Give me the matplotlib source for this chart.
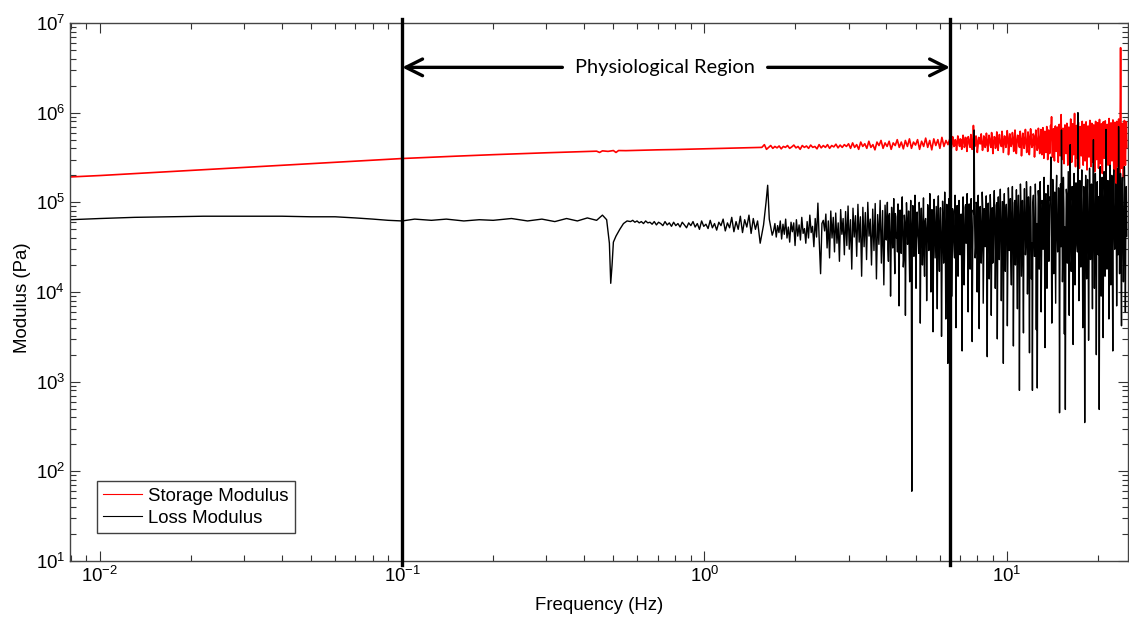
import numpy as np
import matplotlib
matplotlib.use("Agg")
import matplotlib.pyplot as plt

plt.rcParams['font.family'] = ['Liberation Sans', 'DejaVu Sans']
plt.rcParams['mathtext.default'] = 'regular'
plt.rcParams['axes.unicode_minus'] = False

# storage modulus, smooth low-frequency part (Hz, Pa)
stor_freq_lo = [0.008, 0.01, 0.015, 0.02, 0.03, 0.05, 0.07, 0.1, 0.15, 0.2, 0.3, 0.4, 0.44, 0.45,
                0.46, 0.48, 0.5, 0.51, 0.52, 0.55, 0.6, 0.7, 0.8, 0.9, 1.0, 1.1, 1.2, 1.3, 1.4, 1.5, 1.55]
stor_lo = [1.92e5, 1.99e5, 2.15e5, 2.27e5, 2.45e5, 2.70e5, 2.88e5, 3.08e5, 3.27e5, 3.40e5, 3.57e5,
           3.68e5, 3.72e5, 3.6e5, 3.75e5, 3.7e5, 3.78e5, 3.6e5, 3.78e5, 3.77e5, 3.80e5, 3.85e5,
           3.88e5, 3.92e5, 3.95e5, 3.98e5, 4.02e5, 4.05e5, 4.08e5, 4.1e5, 4.1e5]

# storage modulus, noisy part read band by band (outer swings and inner core)
stor_edges = [1.58, 3.0, 6.5, 13.0, 25.0]
stor_a = [4.4e5, 3.9e5, 4.1e5, 4.3e5, 4.0e5, 4.2e5, 4.05e5, 4.25e5, 3.95e5, 4.2e5,
          4.1e5, 4.3e5, 4.0e5, 4.15e5, 4.35e5, 4.05e5, 4.2e5, 3.9e5, 4.3e5, 4.1e5,
          4.25e5, 4.0e5, 4.35e5, 4.1e5, 4.2e5, 3.95e5, 4.4e5, 4.05e5, 4.3e5, 4.1e5,
          4.4e5, 4.0e5, 4.3e5, 4.15e5, 4.45e5, 4.05e5, 4.35e5, 4.1e5, 4.4e5, 4.2e5]
stor_b = [4.5e5, 4.0e5, 4.6e5, 4.1e5, 4.4e5, 3.9e5, 4.7e5, 4.2e5, 4.5e5, 4.0e5,
          4.8e5, 4.1e5, 4.4e5, 3.85e5, 4.7e5, 4.3e5, 4.9e5, 4.0e5, 4.6e5, 4.2e5,
          4.8e5, 3.9e5, 4.6e5, 4.3e5, 5.0e5, 4.1e5, 4.7e5, 3.95e5, 4.9e5, 4.2e5,
          5.1e5, 4.0e5, 4.7e5, 4.35e5, 5.0e5, 3.9e5, 4.8e5, 4.2e5, 5.2e5, 4.1e5,
          4.9e5, 3.85e5, 5.1e5, 4.3e5, 5.0e5, 4.0e5, 5.3e5, 4.2e5, 4.9e5, 4.4e5]
stor_c = [5.2e5, 4.0e5, 5.4e5, 4.2e5, 5.0e5, 3.8e5, 5.5e5, 4.3e5, 5.1e5, 3.9e5,
          5.6e5, 4.1e5, 5.3e5, 3.7e5, 5.4e5, 4.4e5, 5.7e5, 3.9e5, 7.2e5, 4.2e5,
          5.5e5, 3.6e5, 5.3e5, 4.5e5, 5.8e5, 3.8e5, 5.5e5, 4.1e5, 5.9e5, 3.7e5,
          5.6e5, 4.3e5, 6.0e5, 3.5e5, 5.4e5, 4.0e5, 6.1e5, 3.8e5, 5.7e5, 4.4e5,
          6.2e5, 3.6e5, 5.5e5, 4.1e5, 6.3e5, 3.4e5, 5.8e5, 4.2e5, 6.0e5, 3.7e5,
          6.4e5, 3.5e5, 5.6e5, 4.3e5, 6.2e5, 3.3e5, 5.9e5, 4.0e5, 6.5e5, 3.6e5,
          6.1e5, 3.4e5, 6.6e5, 4.1e5, 5.8e5, 3.2e5, 6.4e5, 3.8e5, 6.7e5, 3.5e5]
stor_c_core = [4.7e5, 4.4e5, 5.0e5, 4.3e5, 4.8e5, 4.5e5, 5.1e5, 4.2e5, 4.9e5, 4.6e5,
               5.2e5, 4.3e5, 4.7e5, 4.5e5, 5.0e5, 4.1e5, 4.8e5, 4.6e5, 5.1e5, 4.4e5,
               4.9e5, 4.2e5, 5.2e5, 4.5e5, 4.7e5, 4.3e5, 5.3e5, 4.4e5, 4.9e5, 4.6e5,
               5.1e5, 4.1e5, 4.8e5, 4.5e5, 5.3e5, 4.3e5, 5.0e5, 4.6e5, 4.8e5, 4.2e5,
               5.2e5, 4.4e5, 4.9e5, 4.7e5, 5.4e5, 4.2e5, 5.0e5, 4.5e5, 5.3e5, 4.3e5,
               4.9e5, 4.6e5, 5.5e5, 4.1e5, 5.1e5, 4.4e5, 5.2e5, 4.7e5, 5.0e5, 4.2e5,
               5.4e5, 4.5e5, 4.9e5, 4.3e5, 5.5e5, 4.6e5, 5.1e5, 4.0e5, 5.3e5, 4.4e5]
stor_d = [6.5e5, 3.4e5, 6.8e5, 3.1e5, 6.2e5, 3.6e5, 7.0e5, 3.0e5, 6.4e5, 3.5e5,
          7.2e5, 9.0e5, 3.2e5, 6.6e5, 2.9e5, 7.1e5, 3.7e5, 6.9e5, 2.8e5, 7.4e5,
          3.3e5, 9.5e5, 3.0e5, 6.7e5, 2.7e5, 7.3e5, 3.5e5, 7.6e5, 2.6e5, 6.9e5,
          3.2e5, 8.5e5, 2.8e5, 7.5e5, 3.4e5, 9.8e5, 2.5e5, 7.2e5, 3.1e5, 7.8e5,
          2.4e5, 7.0e5, 3.3e5, 8.0e5, 2.6e5, 7.4e5, 2.9e5, 7.9e5, 2.3e5, 7.1e5,
          3.2e5, 8.2e5, 2.5e5, 7.6e5, 2.8e5, 7.3e5, 2.2e5, 8.0e5, 3.0e5, 7.7e5,
          2.4e5, 8.4e5, 2.7e5, 7.5e5, 2.1e5, 7.9e5, 3.1e5, 8.1e5, 2.3e5, 7.4e5,
          2.6e5, 8.6e5, 2.0e5, 7.7e5, 2.9e5, 8.3e5, 2.2e5, 7.8e5, 1.6e5, 8.0e5,
          2.5e5, 8.5e5, 2.1e5, 5.3e6, 2.4e5, 7.6e5, 1.9e5, 8.2e5, 2.6e5, 7.9e5]
stor_d_core = [5.0e5, 4.2e5, 5.6e5, 4.5e5, 5.3e5, 3.9e5, 5.8e5, 4.6e5, 5.1e5, 4.0e5,
               5.9e5, 4.4e5, 5.4e5, 3.8e5, 6.0e5, 4.7e5, 5.2e5, 4.1e5, 6.1e5, 4.3e5,
               5.5e5, 3.7e5, 5.9e5, 4.8e5, 5.0e5, 4.0e5, 6.2e5, 4.5e5, 5.6e5, 3.6e5,
               6.0e5, 4.4e5, 5.3e5, 3.9e5, 6.3e5, 4.6e5, 5.5e5, 3.8e5, 6.1e5, 4.2e5,
               5.7e5, 3.5e5, 6.4e5, 4.7e5, 5.2e5, 4.0e5, 6.2e5, 4.3e5, 5.8e5, 3.6e5,
               6.5e5, 4.5e5, 5.4e5, 3.8e5, 6.0e5, 4.1e5, 5.9e5, 3.5e5, 6.3e5, 4.6e5,
               5.3e5, 3.9e5, 6.4e5, 4.4e5, 5.6e5, 3.7e5, 6.1e5, 4.2e5, 5.8e5, 3.6e5,
               6.5e5, 4.8e5, 5.5e5, 3.8e5, 6.2e5, 4.3e5, 5.7e5, 3.5e5, 6.4e5, 4.5e5,
               5.9e5, 4.0e5, 6.0e5, 4.7e5, 5.2e5, 3.7e5, 6.3e5, 4.4e5, 5.6e5, 4.1e5]

# loss modulus, smooth part incl. the dip near 0.5 Hz
loss_freq_lo = [0.008, 0.01, 0.013, 0.017, 0.022, 0.03, 0.04, 0.05, 0.06, 0.07, 0.08, 0.09, 0.1,
                0.11, 0.125, 0.14, 0.16, 0.18, 0.2, 0.23, 0.26, 0.29, 0.32, 0.35, 0.38, 0.41,
                0.44, 0.46, 0.475, 0.485, 0.49, 0.495, 0.5, 0.51, 0.525, 0.54, 0.555]
loss_lo = [6.4e4, 6.6e4, 6.8e4, 6.9e4, 7.0e4, 7.0e4, 7.0e4, 6.9e4, 6.9e4, 6.7e4, 6.5e4, 6.3e4,
           6.2e4, 6.5e4, 6.3e4, 6.5e4, 6.2e4, 6.4e4, 6.3e4, 6.6e4, 6.2e4, 6.5e4, 6.1e4, 6.6e4,
           6.2e4, 6.7e4, 6.3e4, 7.2e4, 6.4e4, 3.5e4, 1.25e4, 2.0e4, 3.6e4, 4.2e4, 5.0e4, 5.8e4, 6.2e4]

# wiggly stretch 0.57-1.5 Hz
loss_wiggle_range = [0.57, 1.5]
loss_wiggle = [6.1e4, 6.3e4, 6.0e4, 6.2e4, 5.9e4, 6.1e4, 5.8e4, 6.2e4, 5.9e4, 6.0e4,
               5.7e4, 6.1e4, 5.6e4, 6.0e4, 5.8e4, 5.5e4, 6.1e4, 5.6e4, 5.9e4, 5.4e4,
               6.0e4, 5.5e4, 5.8e4, 5.3e4, 6.0e4, 5.6e4, 5.2e4, 5.9e4, 5.5e4, 6.1e4,
               5.3e4, 5.8e4, 5.0e4, 6.2e4, 5.4e4, 5.7e4, 5.1e4, 6.3e4, 5.2e4, 5.8e4,
               4.9e4, 6.0e4, 5.5e4, 6.5e4, 4.8e4, 5.9e4, 5.2e4, 6.8e4, 4.7e4, 6.1e4,
               5.0e4, 7.0e4, 4.6e4, 6.4e4, 5.3e4, 7.2e4, 4.5e4, 6.6e4, 5.0e4, 6.2e4]

# peak at 1.6 Hz
loss_peak_freq = [1.53, 1.57, 1.6, 1.62, 1.64]
loss_peak = [3.5e4, 5.6e4, 1.0e5, 1.55e5, 6.5e4]

# noisy part, band by band
loss_edges = [1.66, 2.5, 4.0, 6.5, 12.0, 25.0]
loss_a = [5.2e4, 4.3e4, 4.8e4, 5.8e4, 4.1e4, 5.5e4, 4.6e4, 6.2e4, 3.9e4, 5.7e4,
          4.4e4, 6.5e4, 4.0e4, 5.3e4, 3.6e4, 6.0e4, 4.7e4, 5.9e4, 3.3e4, 6.4e4,
          4.2e4, 5.6e4, 3.8e4, 6.8e4, 4.5e4, 5.1e4, 3.5e4, 6.1e4, 4.0e4, 7.2e4,
          4.6e4, 5.4e4, 3.2e4, 6.6e4, 4.1e4, 9.8e4, 3.7e4, 1.6e4, 5.8e4, 6.3e4]
loss_b = [4.8e4, 7.4e4, 3.1e4, 6.2e4, 2.4e4, 8.0e4, 4.0e4, 6.8e4, 2.8e4, 7.6e4,
          3.5e4, 5.9e4, 2.2e4, 8.3e4, 4.4e4, 6.6e4, 2.6e4, 7.9e4, 3.3e4, 9.1e4,
          3.0e4, 6.4e4, 1.8e4, 8.6e4, 4.1e4, 7.1e4, 2.5e4, 9.5e4, 3.6e4, 6.9e4,
          1.5e4, 8.8e4, 3.2e4, 7.7e4, 2.3e4, 1.0e5, 4.2e4, 6.5e4, 2.0e4, 8.4e4,
          2.9e4, 9.7e4, 1.4e4, 7.3e4, 3.4e4, 1.05e5, 2.1e4, 8.1e4, 1.2e4, 9.3e4]
loss_c = [3.8e4, 1.0e5, 2.2e4, 7.5e4, 9.0e3, 8.8e4, 3.1e4, 1.1e5, 1.6e4, 6.9e4,
          4.5e4, 9.6e4, 7.0e3, 8.2e4, 2.7e4, 1.15e5, 1.9e4, 7.2e4, 5.5e3, 9.9e4,
          3.4e4, 8.0e4, 1.3e4, 1.05e5, 60, 9.2e4, 2.5e4, 1.2e5, 1.1e4, 7.8e4,
          3.9e4, 1.0e5, 4.5e3, 8.6e4, 2.0e4, 1.12e5, 1.5e4, 6.6e4, 8.0e3, 9.4e4,
          2.9e4, 1.25e5, 1.0e4, 8.3e4, 3.6e3, 1.08e5, 2.4e4, 9.0e4, 6.5e3, 1.18e5,
          1.7e4, 8.7e4, 3.2e3, 1.03e5, 2.1e4, 1.3e5, 5.0e3, 9.5e4, 1.6e3, 1.1e5]
loss_c_core = [5.5e4, 3.0e4, 7.0e4, 4.2e4, 2.6e4, 6.1e4, 4.8e4, 3.3e4, 7.5e4, 4.0e4,
               2.8e4, 6.4e4, 5.0e4, 3.5e4, 7.2e4, 4.4e4, 2.4e4, 5.8e4, 3.9e4, 6.8e4,
               4.6e4, 2.9e4, 6.0e4, 3.6e4, 5.2e4, 4.1e4, 7.0e4, 3.1e4, 5.6e4, 4.5e4,
               2.7e4, 6.6e4, 3.8e4, 5.3e4, 4.3e4, 2.5e4, 6.2e4, 4.9e4, 3.2e4, 7.3e4,
               4.0e4, 5.7e4, 2.6e4, 6.5e4, 3.7e4, 5.1e4, 4.4e4, 2.8e4, 6.9e4, 3.4e4,
               5.9e4, 4.2e4, 2.3e4, 6.3e4, 3.9e4, 5.4e4, 3.0e4, 7.1e4, 4.7e4, 3.5e4]
loss_d = [2.0e4, 1.1e5, 9.0e3, 8.0e4, 3.0e4, 1.2e5, 4.0e3, 9.2e4, 1.5e4, 1.05e5,
          2.6e4, 7.4e4, 2.2e3, 1.15e5, 1.2e4, 8.8e4, 3.5e4, 1.25e5, 6.0e3, 9.6e4,
          1.8e4, 1.1e5, 2.8e3, 8.2e4, 6.4e5, 2.4e4, 1.0e5, 1.0e4, 1.2e5, 3.9e3,
          9.0e4, 2.1e4, 1.3e5, 7.5e3, 8.5e4, 3.2e4, 1.18e5, 1.9e3, 9.8e4, 1.4e4,
          1.22e5, 5.5e3, 8.7e4, 2.7e4, 1.35e5, 1.1e4, 9.3e4, 3.0e3, 1.15e5, 2.3e4,
          1.4e5, 8.0e3, 1.02e5, 1.6e3, 1.25e5, 1.7e4, 9.5e4, 4.2e3, 1.45e5, 2.9e4,
          1.1e5, 1.2e4, 1.5e5, 2.5e3, 9.9e4, 2.0e4, 1.38e5, 6.5e3, 1.2e5, 8.0e2,
          1.6e5, 1.5e4, 1.05e5, 3.5e3, 1.42e5, 2.6e4, 1.7e5, 9.5e3, 1.15e5, 2.1e3]
loss_d_core = [6.0e4, 3.2e4, 8.5e4, 4.1e4, 2.4e4, 7.2e4, 5.0e4, 2.9e4, 9.0e4, 3.8e4,
               6.6e4, 2.2e4, 7.8e4, 4.5e4, 3.0e4, 9.4e4, 5.4e4, 2.6e4, 6.9e4, 3.5e4,
               8.2e4, 4.8e4, 2.3e4, 7.5e4, 5.8e4, 3.1e4, 9.7e4, 4.2e4, 2.7e4, 6.4e4,
               5.1e4, 3.4e4, 8.8e4, 2.5e4, 7.0e4, 4.6e4, 3.7e4, 9.1e4, 5.6e4, 2.8e4,
               7.7e4, 4.0e4, 2.1e4, 8.6e4, 6.2e4, 3.3e4, 9.9e4, 4.4e4, 2.6e4, 7.3e4,
               5.3e4, 3.6e4, 1.0e5, 4.9e4, 2.4e4, 8.0e4, 5.9e4, 3.0e4, 9.3e4, 4.3e4,
               2.2e4, 7.6e4, 5.5e4, 3.4e4, 1.05e5, 4.7e4, 2.7e4, 8.4e4, 6.1e4, 3.2e4,
               9.6e4, 4.1e4, 2.3e4, 7.9e4, 5.7e4, 3.5e4, 1.08e5, 4.5e4, 2.8e4, 8.7e4]
loss_e = [1.5e5, 1.4e4, 8.0e2, 1.2e5, 2.5e4, 1.6e5, 3.8e3, 8.5e2, 1.35e5, 1.8e4,
          1.7e5, 6.0e3, 1.05e5, 3.0e4, 1.9e5, 2.4e3, 1.25e5, 1.1e4, 1.55e5, 2.2e4,
          1.15e5, 3.2e5, 4.5e3, 1.8e5, 1.6e4, 1.3e5, 7.5e3, 2.0e5, 2.8e4, 1.45e5,
          4.5e2, 1.6e5, 6.4e5, 1.3e4, 1.9e5, 3.4e3, 4.9e2, 1.4e5, 2.1e4, 2.2e5,
          5.5e3, 4.4e5, 1.7e4, 1.5e5, 2.6e3, 2.1e5, 1.2e4, 1.65e5, 3.3e4, 1.0e6,
          8.0e3, 1.75e5, 1.9e4, 2.3e5, 4.0e3, 1.5e5, 3.5e2, 2.0e5, 1.4e4, 1.8e5,
          2.9e3, 2.4e5, 2.3e4, 1.6e5, 6.5e3, 5.0e5, 1.1e4, 2.1e5, 2.0e3, 1.7e5,
          2.6e4, 4.9e2, 2.5e5, 9.0e3, 1.9e5, 3.1e3, 2.2e5, 1.5e4, 6.5e5, 1.8e4,
          1.75e5, 5.0e3, 2.6e5, 1.2e4, 2.0e5, 2.2e3, 2.3e5, 3.0e4, 1.6e5, 7.0e3,
          2.4e5, 7.0e5, 1.6e4, 2.1e5, 4.2e3, 1.9e5, 1.3e4, 2.5e5, 6.0e3, 1.5e5]
loss_e_core = [7.0e4, 3.5e4, 1.0e5, 4.6e4, 2.5e4, 8.6e4, 5.8e4, 3.0e4, 1.15e5, 4.2e4,
               7.6e4, 2.6e4, 9.5e4, 5.2e4, 3.3e4, 1.2e5, 6.4e4, 2.8e4, 8.8e4, 4.4e4,
               1.05e5, 5.6e4, 2.4e4, 9.2e4, 6.9e4, 3.6e4, 1.25e5, 4.8e4, 2.9e4, 8.1e4,
               6.0e4, 3.2e4, 1.1e5, 2.7e4, 8.4e4, 5.3e4, 4.0e4, 1.18e5, 6.6e4, 3.0e4,
               9.0e4, 4.5e4, 2.3e4, 1.02e5, 7.3e4, 3.7e4, 1.28e5, 5.0e4, 2.8e4, 8.5e4,
               6.2e4, 4.1e4, 1.2e5, 5.5e4, 2.6e4, 9.6e4, 7.0e4, 3.4e4, 1.14e5, 4.7e4,
               2.5e4, 8.9e4, 6.5e4, 3.9e4, 1.3e5, 5.1e4, 2.9e4, 9.8e4, 7.4e4, 3.6e4,
               1.16e5, 4.3e4, 2.4e4, 9.3e4, 6.7e4, 4.0e4, 1.25e5, 5.4e4, 3.1e4, 1.0e5,
               7.1e4, 3.3e4, 1.22e5, 4.9e4, 2.7e4, 9.1e4, 6.3e4, 3.8e4, 1.12e5, 5.7e4,
               2.6e4, 9.7e4, 7.2e4, 3.5e4, 1.27e5, 4.6e4, 3.0e4, 1.04e5, 6.0e4, 4.2e4]

region = [0.1, 6.5]
region_label = "Physiological Region"


def mix(outer, core):
    # alternate the outer swings with the core readings of the same band
    return np.column_stack([outer, core]).ravel()


def banded(edges, bands):
    # frequency grid for each hand-read band (log spaced sample positions)
    xs = []
    for i, vals in enumerate(bands):
        last = i == len(bands) - 1
        xs.append(np.geomspace(edges[i], edges[i + 1], len(vals), endpoint=last))
    return np.concatenate(xs), np.concatenate([np.asarray(v, float) for v in bands])


sf, sv = banded(stor_edges, [stor_a, stor_b, mix(stor_c, stor_c_core), mix(stor_d, stor_d_core)])
stor_freq = np.concatenate([stor_freq_lo, sf])
stor_vals = np.concatenate([stor_lo, sv])

lf, lv = banded(loss_edges, [loss_a, loss_b, mix(loss_c, loss_c_core),
                             mix(loss_d, loss_d_core), mix(loss_e, loss_e_core)])
loss_freq = np.concatenate([loss_freq_lo,
                            np.geomspace(loss_wiggle_range[0], loss_wiggle_range[1], len(loss_wiggle)),
                            loss_peak_freq, lf])
loss_vals = np.concatenate([loss_lo, loss_wiggle, loss_peak, lv])

fig = plt.figure(figsize=(11.29, 6.18), dpi=100)
ax = fig.add_axes([0.062, 0.0922, 0.937, 0.8706])

ax.plot(stor_freq, stor_vals, color='red', lw=1.2, label='Storage Modulus')
ax.plot(loss_freq, loss_vals, color='black', lw=1.0, label='Loss Modulus')

ax.set_xscale('log')
ax.set_yscale('log')
ax.set_xlim(0.00796, 25.2)
ax.set_ylim(10, 1e7)

for x in region:
    ax.axvline(x, ymin=-0.008, ymax=1.008, color='black', lw=2.4, clip_on=False, zorder=5)

y_arrow = 3.2e6
left_end, right_start = 0.339, 1.62
head = dict(arrowstyle='->,head_length=0.6,head_width=0.3', lw=2.4, color='black',
            shrinkA=0, shrinkB=0, mutation_scale=20)
ax.annotate('', xy=(region[0], y_arrow), xytext=(left_end, y_arrow), arrowprops=head)
ax.annotate('', xy=(region[1], y_arrow), xytext=(right_start, y_arrow), arrowprops=head)
ax.text(np.sqrt(left_end * right_start), y_arrow, region_label, ha='center', va='center',
        fontsize=14.4, family=['Lato', 'DejaVu Sans'])

ax.set_xlabel('Frequency (Hz)', fontsize=13.4)
ax.set_ylabel('Modulus (Pa)', fontsize=13.4)
ax.xaxis.set_label_coords(0.5, -0.066)
ax.yaxis.set_label_coords(-0.037, 0.489)

ax.tick_params(which='both', direction='in', top=True, right=True, colors='#333333',
               labelcolor='black', labelsize=13.4)
ax.tick_params(which='major', length=7, width=0.8)
ax.tick_params(which='minor', length=4.3, width=0.8)
for s in ax.spines.values():
    s.set_color('#444444')
    s.set_linewidth(1.0)

leg = ax.legend(loc='lower left', bbox_to_anchor=(0.0255, 0.052), borderaxespad=0,
                fancybox=False, edgecolor='#404040', framealpha=1, fontsize=13.4,
                handlelength=2.05, handletextpad=0.35, borderpad=0.35, labelspacing=0.25)
leg.get_frame().set_linewidth(1.0)
for line in leg.get_lines():
    line.set_linewidth(0.8)

fig.savefig('out.png', dpi=100)
